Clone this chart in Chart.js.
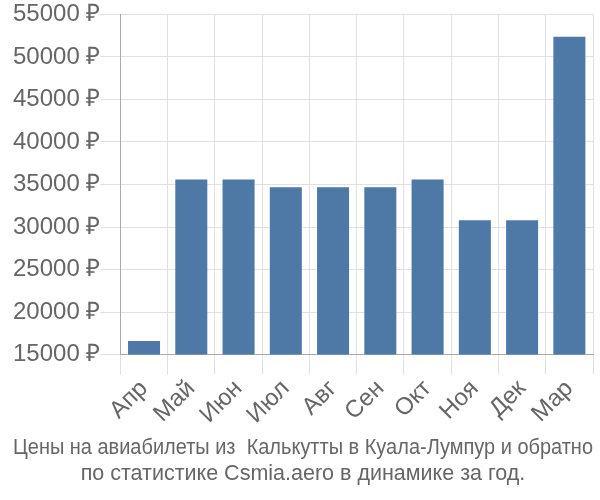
<!DOCTYPE html>
<html>
<head>
<meta charset="utf-8">
<script src="https://cdn.jsdelivr.net/npm/chart.js@4"></script>
<style>
  body { margin: 0; background: #fff; }
  #wrap { width: 600px; height: 500px; }
</style>
</head>
<body>
<div id="wrap"><canvas id="priceChart"></canvas></div>
<script>
const months = ["Апр", "Май", "Июн", "Июл", "Авг", "Сен", "Окт", "Ноя", "Дек", "Мар"];
const prices = [16700, 35700, 35700, 34800, 34800, 34800, 35700, 30900, 30900, 52500];
const titleLines = [
  "Цены на авиабилеты из  Калькутты в Куала-Лумпур и обратно",
  "по статистике Csmia.aero в динамике за год."
];

const ctx = document.getElementById("priceChart");
const priceChart = new Chart(ctx, {
  type: "bar",
  data: {
    labels: months,
    datasets: [
      {
        data: prices,
        backgroundColor: "#4e79a7",
        borderColor: "rgba(255, 255, 255, 0.4)",
        borderWidth: 1,
      },
    ],
  },
  options: {
    responsive: true,
    maintainAspectRatio: false,
    animation: false,
    layout: { padding: { right: 7, left: 13 } },
    plugins: {
      legend: { display: false },
      tooltip: { enabled: false },
      title: {
        display: true,
        position: "bottom",
        text: titleLines,
        color: "#666",
        font: { family: "Liberation Sans", size: 21.5, weight: "normal", lineHeight: 1.2 },
        padding: { top: 6, bottom: 13 },
      },
    },
    scales: {
      x: {
        grid: { color: "#e0e0e0", tickLength: 20 },
        border: { color: "#aaa" },
        ticks: {
          color: "#666",
          font: { family: "Liberation Sans", size: 24 },
          maxRotation: 45,
          minRotation: 45,
          padding: 0,
        },
      },
      y: {
        min: 15000,
        max: 55000,
        grid: { color: "#e0e0e0", tickLength: 20 },
        border: { color: "#aaa" },
        ticks: {
          stepSize: 5000,
          color: "#666",
          font: { family: "Liberation Sans", size: 24 },
          padding: 0,
          callback: (v) => v + " ₽",
        },
      },
    },
  },
});
</script>
</body>
</html>
